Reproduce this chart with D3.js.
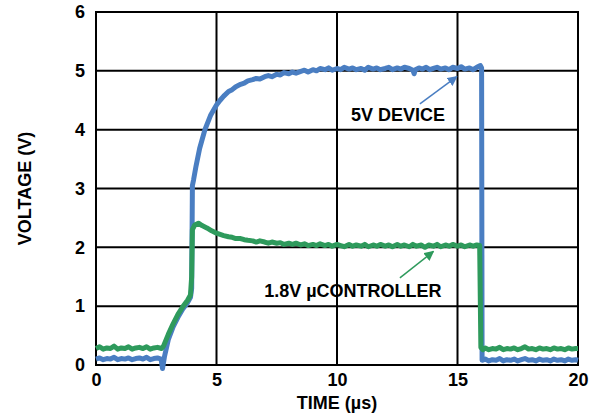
<!DOCTYPE html>
<html>
<head>
<meta charset="utf-8">
<script src="https://cdn.jsdelivr.net/npm/d3@7"></script>
<style>
  body { margin: 0; background: #fff; }
  text { font-family: "Liberation Sans", Arial, sans-serif; font-weight: bold; }
</style>
</head>
<body>
<div id="chart"></div>
<script>
// tick values
const xTicks = [0, 5, 10, 15, 20];
const yTicks = [0, 1, 2, 3, 4, 5, 6];

// 5V device trace, [time µs, volts]
const deviceTrace = [
  [0.0, 0.10], [0.15, 0.12], [0.3, 0.09], [0.45, 0.11], [0.6, 0.10], [0.75, 0.13], [0.9, 0.09],
  [1.05, 0.11], [1.2, 0.10], [1.35, 0.12], [1.5, 0.09], [1.65, 0.11], [1.8, 0.12], [1.95, 0.10],
  [2.1, 0.13], [2.25, 0.09], [2.4, 0.11], [2.55, 0.12], [2.7, 0.10], [2.76, -0.06], [2.84, 0.14],
  [3.0, 0.43], [3.2, 0.65], [3.4, 0.81], [3.6, 0.95], [3.8, 1.06], [3.92, 1.15], [3.97, 1.3],
  [4.0, 3.05], [4.05, 3.15], [4.15, 3.38], [4.3, 3.68], [4.52, 4.0], [4.75, 4.24], [5.0, 4.42],
  [5.15, 4.50], [5.3, 4.57], [5.5, 4.65], [5.65, 4.68], [5.8, 4.73], [6.0, 4.77], [6.15, 4.79],
  [6.3, 4.83], [6.5, 4.85], [6.65, 4.87], [6.8, 4.86], [7.0, 4.90], [7.15, 4.92], [7.3, 4.90],
  [7.5, 4.94], [7.65, 4.93], [7.8, 4.97], [8.0, 4.95], [8.15, 4.98], [8.3, 4.96], [8.5, 4.99],
  [8.65, 5.01], [8.8, 4.98], [9.0, 5.02], [9.15, 5.00], [9.3, 5.04], [9.5, 5.02], [9.65, 5.05],
  [9.8, 5.01], [10.0, 5.04], [10.15, 5.02], [10.3, 5.06], [10.5, 5.03], [10.65, 5.05], [10.8, 5.02],
  [11.0, 5.04], [11.15, 5.01], [11.3, 5.06], [11.5, 5.03], [11.65, 5.05], [11.8, 5.02], [12.0, 5.04],
  [12.15, 5.06], [12.3, 5.02], [12.5, 5.05], [12.65, 5.03], [12.8, 5.06], [13.0, 5.04], [13.15, 5.01],
  [13.2, 4.95], [13.25, 5.02], [13.4, 5.05], [13.55, 5.03], [13.7, 5.06], [13.85, 5.02], [14.0, 5.04],
  [14.15, 5.06], [14.3, 5.03], [14.5, 5.05], [14.65, 5.02], [14.8, 5.06], [15.0, 5.04], [15.15, 5.07],
  [15.3, 5.03], [15.5, 5.05], [15.65, 5.02], [15.8, 5.06], [15.95, 5.09], [16.0, 5.05], [16.02, 0.08],
  [16.15, 0.10], [16.3, 0.07], [16.45, 0.09], [16.6, 0.08], [16.75, 0.11], [16.9, 0.07], [17.05, 0.09],
  [17.2, 0.08], [17.35, 0.10], [17.5, 0.07], [17.65, 0.09], [17.8, 0.11], [17.95, 0.08], [18.1, 0.09],
  [18.25, 0.07], [18.4, 0.10], [18.55, 0.08], [18.7, 0.09], [18.85, 0.07], [19.0, 0.10], [19.15, 0.08],
  [19.3, 0.09], [19.45, 0.07], [19.6, 0.10], [19.75, 0.08], [19.9, 0.09], [20.0, 0.08]
];

// 1.8V µcontroller trace, [time µs, volts]
const controllerTrace = [
  [0.0, 0.28], [0.15, 0.31], [0.3, 0.27], [0.45, 0.29], [0.6, 0.28], [0.75, 0.32], [0.9, 0.27],
  [1.05, 0.29], [1.2, 0.28], [1.35, 0.31], [1.5, 0.27], [1.65, 0.29], [1.8, 0.30], [1.95, 0.28],
  [2.1, 0.31], [2.25, 0.27], [2.4, 0.29], [2.55, 0.30], [2.72, 0.28], [2.8, 0.32],
  [3.0, 0.52], [3.2, 0.70], [3.4, 0.86], [3.6, 0.99], [3.8, 1.10], [3.92, 1.19], [3.97, 1.5],
  [4.0, 2.30], [4.1, 2.38], [4.25, 2.41], [4.4, 2.37], [4.6, 2.33], [4.8, 2.28], [5.0, 2.24],
  [5.15, 2.22], [5.3, 2.20], [5.5, 2.18], [5.65, 2.17], [5.8, 2.15], [6.0, 2.15], [6.15, 2.13],
  [6.3, 2.12], [6.5, 2.11], [6.65, 2.09], [6.8, 2.11], [7.0, 2.09], [7.15, 2.07], [7.3, 2.09],
  [7.5, 2.07], [7.65, 2.08], [7.8, 2.05], [8.0, 2.07], [8.15, 2.05], [8.3, 2.07], [8.5, 2.04],
  [8.65, 2.06], [8.8, 2.03], [9.0, 2.05], [9.15, 2.03], [9.3, 2.06], [9.5, 2.03], [9.65, 2.05],
  [9.8, 2.02], [10.0, 2.05], [10.15, 2.03], [10.3, 2.01], [10.5, 2.05], [10.65, 2.02], [10.8, 2.04],
  [11.0, 2.02], [11.15, 2.05], [11.3, 2.01], [11.5, 2.04], [11.65, 2.02], [11.8, 2.05], [12.0, 2.02],
  [12.15, 2.04], [12.3, 2.01], [12.5, 2.05], [12.65, 2.02], [12.8, 2.04], [13.0, 2.01], [13.15, 2.05],
  [13.3, 2.02], [13.5, 2.04], [13.65, 2.00], [13.8, 2.04], [14.0, 2.02], [14.15, 2.05], [14.3, 2.01],
  [14.5, 2.04], [14.65, 2.02], [14.8, 2.05], [15.0, 2.02], [15.15, 2.04], [15.3, 2.01], [15.5, 2.04],
  [15.65, 2.02], [15.8, 2.04], [15.92, 2.03], [15.97, 0.30], [16.05, 0.26],
  [16.15, 0.29], [16.3, 0.26], [16.45, 0.28], [16.6, 0.27], [16.75, 0.30], [16.9, 0.26], [17.05, 0.28],
  [17.2, 0.27], [17.35, 0.29], [17.5, 0.26], [17.65, 0.28], [17.8, 0.31], [17.95, 0.27], [18.1, 0.28],
  [18.25, 0.26], [18.4, 0.29], [18.55, 0.27], [18.7, 0.28], [18.85, 0.26], [19.0, 0.29], [19.15, 0.27],
  [19.3, 0.28], [19.45, 0.26], [19.6, 0.29], [19.75, 0.27], [19.9, 0.28], [20.0, 0.28]
];

// annotations: label, text anchor point, arrow start, arrow end
const labels = [
  { text: "5V DEVICE", at: [14.48, 4.14], from: [13.44, 4.44], to: [14.97, 4.90], color: "#4a7ec2" },
  { text: "1.8V µCONTROLLER", at: [14.34, 1.16], from: [12.61, 1.48], to: [14.0, 1.93], color: "#2e9a5c" }
];

const margin = { top: 12, right: 16, bottom: 49, left: 96 },
  width = 594 - margin.left - margin.right,
  height = 414 - margin.top - margin.bottom;

const root = d3.select("#chart")
  .append("svg")
  .attr("width", 594)
  .attr("height", 414);

const svg = root.append("g")
  .attr("transform", "translate(" + margin.left + "," + margin.top + ")");

const x = d3.scaleLinear().domain([0, 20]).range([0, width]);
const y = d3.scaleLinear().domain([0, 6]).range([height, 0]);

// grid lines
svg.append("g")
  .selectAll("line")
  .data(xTicks)
  .join("line")
  .attr("x1", d => x(d)).attr("x2", d => x(d))
  .attr("y1", -1).attr("y2", height + 1)
  .attr("stroke", "#000").attr("stroke-width", 2);

svg.append("g")
  .selectAll("line")
  .data(yTicks)
  .join("line")
  .attr("x1", -1).attr("x2", width + 1)
  .attr("y1", d => y(d)).attr("y2", d => y(d))
  .attr("stroke", "#000").attr("stroke-width", 2);

// tick labels via d3 axes, domain and tick lines hidden
const xAxis = svg.append("g")
  .attr("transform", "translate(0," + height + ")")
  .call(d3.axisBottom(x).tickValues(xTicks).tickFormat(d3.format("d")).tickSize(0).tickPadding(8));
const yAxis = svg.append("g")
  .call(d3.axisLeft(y).tickValues(yTicks).tickFormat(d3.format("d")).tickSize(0).tickPadding(11));
[xAxis, yAxis].forEach(a => {
  a.select(".domain").remove();
  a.selectAll("text").style("font-size", "18px").style("font-weight", "bold")
    .style("font-family", "'Liberation Sans', Arial, sans-serif").attr("fill", "#000");
});

// traces
const line = d3.line().x(d => x(d[0])).y(d => y(d[1]));

svg.append("path")
  .datum(deviceTrace)
  .attr("d", line)
  .attr("fill", "none")
  .attr("stroke", "#4a7ec2")
  .attr("stroke-width", 5)
  .attr("stroke-linejoin", "round");

svg.append("path")
  .datum(controllerTrace)
  .attr("d", line)
  .attr("fill", "none")
  .attr("stroke", "#2e9a5c")
  .attr("stroke-width", 5)
  .attr("stroke-linejoin", "round");

// arrow heads
const defs = root.append("defs");
labels.forEach((d, i) => {
  defs.append("marker")
    .attr("id", "arrow" + i)
    .attr("viewBox", "0 0 10 10")
    .attr("refX", 9).attr("refY", 5)
    .attr("markerWidth", 10).attr("markerHeight", 10)
    .attr("markerUnits", "userSpaceOnUse")
    .attr("orient", "auto")
    .append("path")
    .attr("d", "M0,0L10,5L0,10Z")
    .attr("fill", d.color);
});

svg.append("g")
  .selectAll("line")
  .data(labels)
  .join("line")
  .attr("x1", d => x(d.from[0])).attr("y1", d => y(d.from[1]))
  .attr("x2", d => x(d.to[0])).attr("y2", d => y(d.to[1]))
  .attr("stroke", d => d.color)
  .attr("stroke-width", 1.5)
  .attr("marker-end", (d, i) => "url(#arrow" + i + ")");

svg.append("g")
  .selectAll("text")
  .data(labels)
  .join("text")
  .attr("x", d => x(d.at[0]))
  .attr("y", d => y(d.at[1]))
  .attr("text-anchor", "end")
  .style("font-size", "18px")
  .text(d => d.text);

// axis titles
svg.append("text")
  .attr("x", width / 2)
  .attr("y", height + 44)
  .attr("text-anchor", "middle")
  .style("font-size", "18px")
  .text("TIME (µs)");

svg.append("text")
  .attr("transform", "translate(" + (-65.5) + "," + (height / 2) + ") rotate(-90)")
  .attr("text-anchor", "middle")
  .style("font-size", "18px")
  .text("VOLTAGE (V)");
</script>
</body>
</html>
